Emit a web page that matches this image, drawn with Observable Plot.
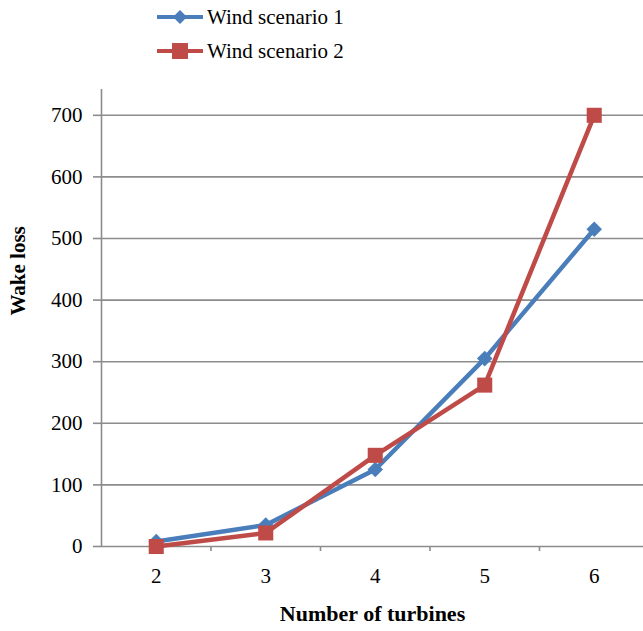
<!DOCTYPE html>
<html>
<head>
<meta charset="utf-8">
<script src="https://cdn.jsdelivr.net/npm/d3@7"></script>
<script src="https://cdn.jsdelivr.net/npm/@observablehq/plot@0.6"></script>
<style>
  html, body { margin: 0; padding: 0; background: #fff; }
  #wrap { position: relative; width: 643px; height: 631px; overflow: hidden; }
  #wrap svg text { font-family: "Liberation Serif", serif !important; }
  #legend { position: absolute; left: 157px; top: 0; font-family: "Liberation Serif", serif; font-size: 21px; color: #000; }
  .item { display: flex; align-items: center; height: 34px; }
  .item svg { margin-right: 4px; }
</style>
</head>
<body>
<div id="wrap"><div id="legend"></div></div>
<script>
const turbines = [2, 3, 4, 5, 6];
const scenario1 = [8, 35, 125, 305, 515];
const scenario2 = [0, 22, 148, 262, 700];
const seriesNames = ["Wind scenario 1", "Wind scenario 2"];
const seriesColors = ["#4a7ebb", "#be4b48"];
const yTicks = [0, 100, 200, 300, 400, 500, 600, 700];

const rows = [];
turbines.forEach((t, i) => {
  rows.push({turbines: t, loss: scenario1[i], series: seriesNames[0]});
  rows.push({turbines: t, loss: scenario2[i], series: seriesNames[1]});
});
const s1 = rows.filter(d => d.series === seriesNames[0]);
const s2 = rows.filter(d => d.series === seriesNames[1]);
const boundaries = turbines.slice(0, -1).map(t => t + 0.5);

const chart = Plot.plot({
  width: 643,
  height: 631,
  marginLeft: 101,
  marginRight: 0,
  marginTop: 84,
  marginBottom: 85,
  style: {fontFamily: "'Liberation Serif', serif", fontSize: "21px", color: "#000", background: "#fff"},
  x: {type: "linear", domain: [1.5, 6.45]},
  y: {type: "linear", domain: [0, 750]},
  marks: [
    Plot.ruleY(yTicks, {stroke: "#8c8c8c", strokeWidth: 1.6, strokeOpacity: 1}),
    Plot.axisY({ticks: yTicks, tickSize: 8, tickPadding: 11, stroke: "#8c8c8c", strokeWidth: 1.6, strokeOpacity: 1, fontSize: 21, label: null}),
    Plot.ruleX([1.5], {y1: 0, y2: 750, stroke: "#8c8c8c", strokeWidth: 1.6, strokeOpacity: 1, insetBottom: -5}),
    Plot.axisX({ticks: boundaries, tickSize: 5, tickFormat: () => "", stroke: "#8c8c8c", strokeWidth: 1.6, strokeOpacity: 1, label: null}),
    Plot.axisX({ticks: turbines, tickSize: 0, tickPadding: 22, tickFormat: d3.format("d"), fontSize: 21, label: null}),
    Plot.text(["Number of turbines"], {frameAnchor: "bottom", dy: 74, fontWeight: "bold", fontSize: 22}),
    Plot.text(["Wake loss"], {frameAnchor: "left", dx: -83, rotate: -90, fontWeight: "bold", fontSize: 21}),
    Plot.line(s1, {x: "turbines", y: "loss", stroke: seriesColors[0], strokeWidth: 4.5}),
    Plot.line(s2, {x: "turbines", y: "loss", stroke: seriesColors[1], strokeWidth: 4.5}),
    Plot.dot(s1, {x: "turbines", y: "loss", symbol: "diamond2", r: 7, fill: seriesColors[0], stroke: "none"}),
    Plot.dot(s2, {x: "turbines", y: "loss", symbol: "square", r: 8.5, fill: seriesColors[1], stroke: "none"})
  ]
});
document.getElementById("wrap").appendChild(chart);

const legend = document.getElementById("legend");
seriesNames.forEach((name, i) => {
  const item = document.createElement("div");
  item.className = "item";
  const sym = i === 0
    ? `<path d="M23,10 L30,17 L23,24 L16,17 Z" fill="${seriesColors[i]}"/>`
    : `<rect x="15" y="9" width="16" height="16" fill="${seriesColors[i]}"/>`;
  item.innerHTML = `<svg width="46" height="34"><line x1="0" x2="46" y1="17" y2="17" stroke="${seriesColors[i]}" stroke-width="4"/>${sym}</svg><span>${name}</span>`;
  legend.appendChild(item);
});
</script>
</body>
</html>
